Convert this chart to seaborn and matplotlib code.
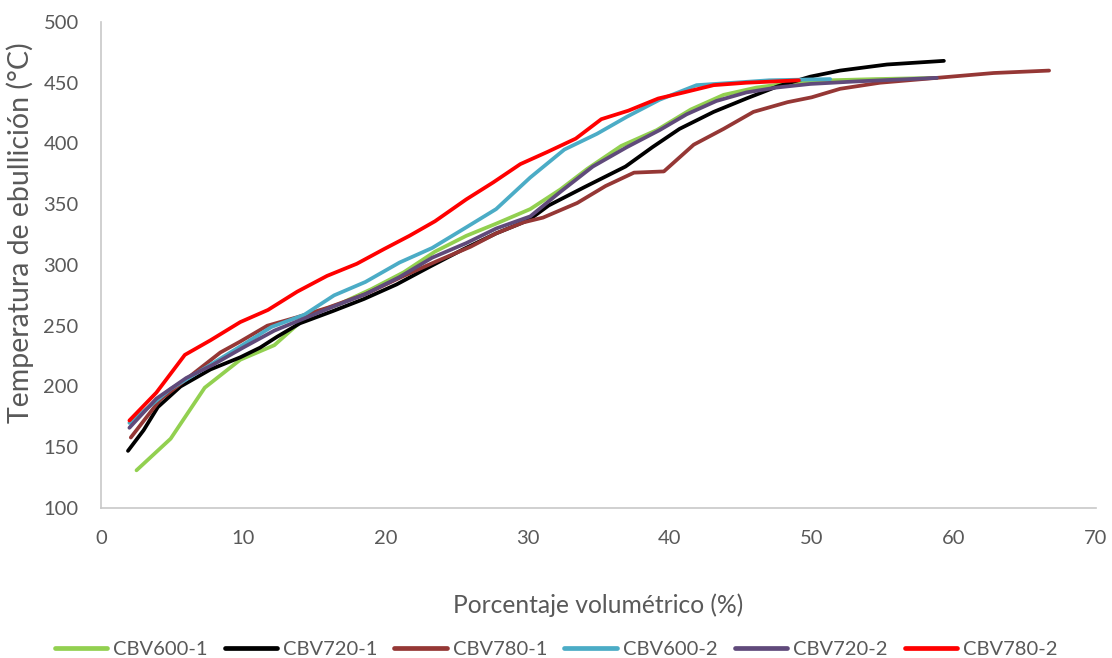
import matplotlib
matplotlib.use("Agg")
import matplotlib.pyplot as plt
import seaborn as sns
import pandas as pd

# Distillation curves: boiling temperature vs. volumetric percentage
series_names = ["CBV600-1", "CBV720-1", "CBV780-1", "CBV600-2", "CBV720-2", "CBV780-2"]
series_colors = ["#92D050", "#000000", "#953735", "#4BACC6", "#604A7B", "#FF0000"]

cbv600_1_x = [2.5, 4.9, 7.3, 9.8, 12.2, 14.6, 16.8, 19.0, 21.3, 23.5, 25.7, 27.8, 30.2, 32.3,
              34.2, 36.6, 39.1, 41.5, 43.8, 46.1, 48.7, 51.3, 54.5, 58.8]
cbv600_1_y = [131, 157, 199, 222, 234, 259, 268, 280, 294, 311, 324, 334, 346, 362,
              379, 398, 411, 428, 440, 446, 450, 452, 453, 454]

cbv720_1_x = [1.9, 3.0, 4.0, 5.6, 7.7, 9.8, 11.2, 12.4, 14.0, 16.3, 18.5, 20.8, 23.2, 25.5,
              27.8, 30.1, 31.5, 34.0, 36.9, 38.8, 40.7, 43.1, 45.4, 47.6, 49.9, 52.0, 55.3, 59.3]
cbv720_1_y = [147, 164, 183, 200, 214, 224, 232, 241, 252, 262, 272, 284, 299, 313,
              326, 337, 349, 364, 381, 397, 412, 426, 437, 447, 455, 460, 465, 468]

cbv780_1_x = [2.1, 4.15, 6.0, 8.4, 9.8, 11.7, 13.8, 16.0, 18.6, 21.3, 23.6, 26.0, 27.8, 29.7,
              31.1, 33.5, 35.5, 37.5, 39.6, 41.7, 43.8, 45.9, 48.3, 50.0, 52.0, 54.8, 58.8,
              62.8, 66.7]
cbv780_1_y = [158, 189, 206, 228, 237, 250, 257, 265, 276, 291, 303, 315, 326, 335,
              339, 351, 365, 376, 377, 399, 412, 426, 434, 438, 445, 450, 454,
              458, 460]

cbv600_2_x = [2.0, 4.9, 7.3, 9.8, 12.0, 14.3, 16.4, 18.6, 21.0, 23.3, 25.7, 27.8, 30.2, 32.6,
              34.9, 37.0, 39.3, 41.9, 44.5, 47.0, 51.3]
cbv600_2_y = [170, 198, 215, 233, 249, 259, 275, 286, 302, 314, 331, 346, 372, 395,
              408, 422, 436, 448, 450, 452, 453]

cbv720_2_x = [2.0, 3.9, 6.0, 7.9, 10.0, 12.2, 14.3, 16.4, 18.6, 21.0, 23.3, 25.7, 27.8, 30.2,
              32.3, 34.6, 37.0, 39.3, 41.2, 43.3, 45.4, 47.5, 49.9, 53.0, 58.8]
cbv720_2_y = [166, 190, 207, 218, 232, 246, 256, 266, 276, 290, 306, 318, 330, 340,
              360, 381, 397, 411, 424, 435, 442, 446, 449, 451, 454]

cbv780_2_x = [2.0, 3.9, 5.9, 7.7, 9.8, 11.75, 13.8, 15.9, 18.0, 19.9, 21.7, 23.5, 25.7, 27.6,
              29.5, 31.4, 33.4, 35.2, 37.1, 39.2, 41.0, 43.1, 45.4, 49.1]
cbv780_2_y = [172, 195, 226, 238, 253, 263, 278, 291, 301, 313, 324, 336, 354, 368,
              383, 393, 404, 420, 427, 437, 442, 448, 450, 452]

x_ticks = [0, 10, 20, 30, 40, 50, 60, 70]
y_ticks = [100, 150, 200, 250, 300, 350, 400, 450, 500]

all_x = [cbv600_1_x, cbv720_1_x, cbv780_1_x, cbv600_2_x, cbv720_2_x, cbv780_2_x]
all_y = [cbv600_1_y, cbv720_1_y, cbv780_1_y, cbv600_2_y, cbv720_2_y, cbv780_2_y]

frames = []
for name, xs, ys in zip(series_names, all_x, all_y):
    frames.append(pd.DataFrame({"pct": xs, "temp": ys, "muestra": name}))
df = pd.concat(frames, ignore_index=True)

sns.set_theme(style="white")
plt.rcParams["font.family"] = ["Lato", "DejaVu Sans"]

TEXT = "#595959"

fig = plt.figure(figsize=(11.12, 6.58), dpi=100)
ax = fig.add_axes([0.0908, 0.228, 0.8948, 0.7386])

sns.lineplot(data=df, x="pct", y="temp", hue="muestra", hue_order=series_names,
             palette=series_colors, sort=False, estimator=None, linewidth=2.7,
             ax=ax, legend=False)

ax.set_xlim(0, 70)
ax.set_ylim(100, 500)
ax.set_xticks(x_ticks)
ax.set_yticks(y_ticks)
ax.tick_params(axis="x", length=0, labelsize=14.5, colors=TEXT, pad=16)
ax.tick_params(axis="y", length=0, labelsize=14.5, colors=TEXT, pad=16)

for side in ["top", "right"]:
    ax.spines[side].set_visible(False)
for side in ["left", "bottom"]:
    ax.spines[side].set_color("#C8C8C8")
    ax.spines[side].set_linewidth(1.2)

ax.set_xlabel("Porcentaje volumétrico (%)", fontsize=17, color=TEXT)
ax.set_ylabel("Temperatura de ebullición (°C)", fontsize=17, color=TEXT)
ax.xaxis.label.set_va("center")
ax.yaxis.label.set_va("center")
ax.xaxis.set_label_coords(0.5, -0.2)
ax.yaxis.set_label_coords(-0.081, 0.566)

# size the axis titles to their intended on-canvas length
renderer = fig.canvas.get_renderer()
for label, target_px in [(ax.xaxis.label, 290), (ax.yaxis.label, 380)]:
    ext = label.get_window_extent(renderer)
    length = max(ext.width, ext.height)
    label.set_fontsize(label.get_fontsize() * target_px / length)

handles = [plt.Line2D([0], [0], color=c, linewidth=3.4) for c in series_colors]
fig.legend(handles, series_names, loc="center", bbox_to_anchor=(0.5, 0.013), ncol=6,
           frameon=False, fontsize=14.5, handlelength=2.6, columnspacing=0.85,
           handletextpad=0.3, labelcolor=TEXT)

fig.savefig("out.png", dpi=100)
